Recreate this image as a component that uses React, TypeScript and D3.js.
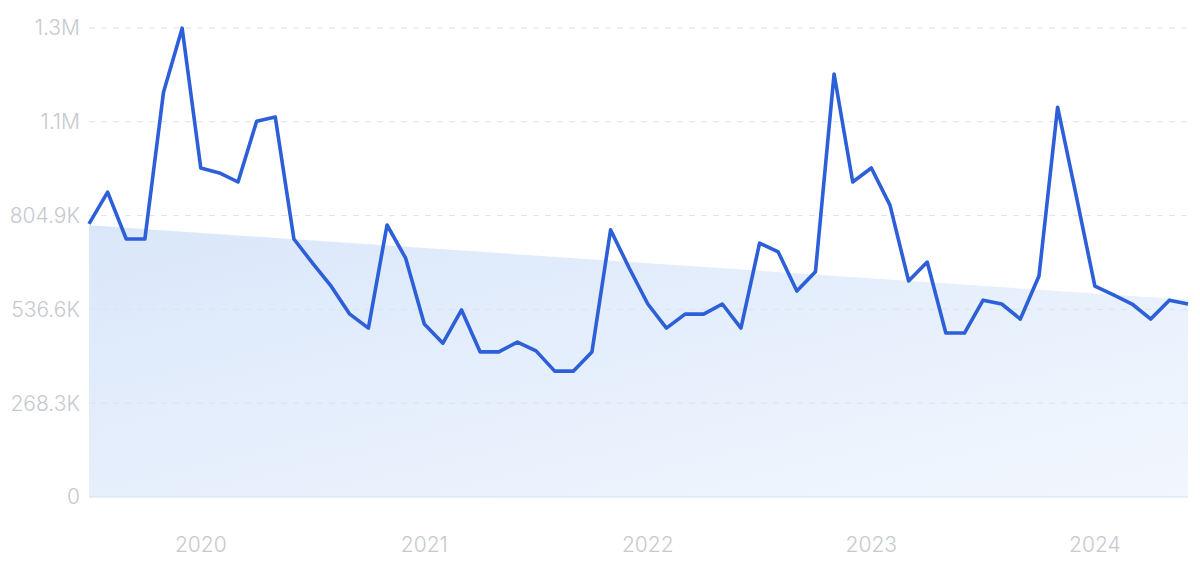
import React from "react";
import * as d3 from "d3";

const W = 1200;
const H = 562;

// Monthly values, Jul 2019 .. Jun 2024
const monthLabels: string[] = [
  "2019-07","2019-08","2019-09","2019-10","2019-11","2019-12",
  "2020-01","2020-02","2020-03","2020-04","2020-05","2020-06","2020-07","2020-08","2020-09","2020-10","2020-11","2020-12",
  "2021-01","2021-02","2021-03","2021-04","2021-05","2021-06","2021-07","2021-08","2021-09","2021-10","2021-11","2021-12",
  "2022-01","2022-02","2022-03","2022-04","2022-05","2022-06","2022-07","2022-08","2022-09","2022-10","2022-11","2022-12",
  "2023-01","2023-02","2023-03","2023-04","2023-05","2023-06","2023-07","2023-08","2023-09","2023-10","2023-11","2023-12",
  "2024-01","2024-02","2024-03","2024-04","2024-05","2024-06",
];
const values: number[] = [
  781000, 872000, 738000, 738000, 1158000, 1341000,
  941000, 927000, 901000, 1075000, 1087000, 738000, 669000, 603000, 523000, 483000, 778000, 683000,
  495000, 440000, 535000, 415000, 415000, 443000, 418000, 360000, 360000, 415000, 764000, 655000,
  552000, 483000, 523000, 523000, 552000, 483000, 726000, 701000, 589000, 644000, 1210000, 901000,
  941000, 835000, 618000, 672000, 469000, 469000, 563000, 552000, 509000, 632000, 1115000, 861000,
  603000, 578000, 552000, 509000, 563000, 552000,
];

const yTickValues: number[] = [0, 268300, 536600, 804900, 1073200, 1341500];
const yTickLabels: string[] = ["0", "268.3K", "536.6K", "804.9K", "1.1M", "1.3M"];
const xTickLabels: string[] = ["2020", "2021", "2022", "2023", "2024"];

export default function App() {
  const left = 89, right = 1188, top = 28, bottom = 497;
  const x = d3.scaleLinear().domain([0, values.length - 1]).range([left, right]);
  const y = d3.scaleLinear().domain([0, 1341500]).range([bottom, top]);

  // linear regression trend
  const n = values.length;
  const mx = d3.mean(values.map((_, i) => i)) as number;
  const my = d3.mean(values) as number;
  let num = 0, den = 0;
  values.forEach((v, i) => { num += (i - mx) * (v - my); den += (i - mx) ** 2; });
  const slope = num / den;
  const icpt = my - slope * mx;
  const trend = [0, n - 1].map((i) => ({ i, v: icpt + slope * i }));

  const area = d3.area<{ i: number; v: number }>()
    .x((d) => x(d.i)).y0(y(0)).y1((d) => y(d.v));
  const line = d3.line<number>().x((_, i) => x(i)).y((d) => y(d));

  const font = "Inter, 'Noto Sans', sans-serif";

  return (
    <svg width={W} height={H} style={{ position: "absolute", left: 0, top: 0 }}>
      <defs>
        <linearGradient id="fillGrad" x1="0" y1="0" x2="1" y2="1">
          <stop offset="0%" stopColor="#dae7fa" />
          <stop offset="100%" stopColor="#f2f7fe" />
        </linearGradient>
      </defs>
      <rect width={W} height={H} fill="#ffffff" />
      <path d={area(trend) || ""} fill="url(#fillGrad)" />
      {yTickValues.map((t, k) => (
        <g key={k}>
          {k === 0 ? (
            <line x1={left} x2={right} y1={y(t)} y2={y(t)} stroke="#d3e0f4" strokeWidth={1.2} />
          ) : (
            <line x1={left} x2={right} y1={y(t)} y2={y(t)} stroke="#dbe3f0" strokeWidth={1} strokeDasharray="6 6" />
          )}
          <text x={80} y={y(t)} dy="0.35em" textAnchor="end" fontFamily={font} fontSize={21} fontWeight={300} fill="#c6c9cf">
            {yTickLabels[k]}
          </text>
        </g>
      ))}
      {xTickLabels.map((lab) => {
        const idx = monthLabels.indexOf(lab + "-01");
        return (
          <text key={lab} x={x(idx)} y={545} dy="0.35em" textAnchor="middle" fontFamily={font} fontSize={21} fontWeight={300} fill="#c6c9cf">
            {lab}
          </text>
        );
      })}
      <path d={line(values) || ""} fill="none" stroke="#2c5fd8" strokeWidth={3.6} strokeLinejoin="round" />
    </svg>
  );
}
